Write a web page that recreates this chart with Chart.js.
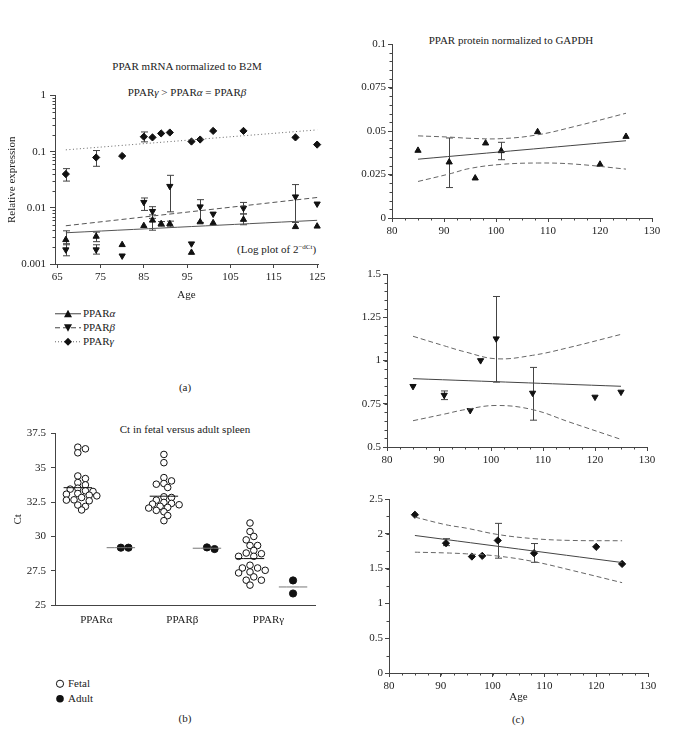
<!DOCTYPE html>
<html>
<head>
<meta charset="utf-8">
<script src="https://cdn.jsdelivr.net/npm/chart.js@4.4.1/dist/chart.umd.min.js"></script>
<style>
  body { margin: 0; background: #fff; }
  #page { position: relative; width: 684px; height: 733px; overflow: hidden; font-family: "Liberation Serif", "DejaVu Serif", serif; color: #222; font-size: 11px; }
  #page canvas { position: absolute; }
  .t { position: absolute; white-space: nowrap; transform: translate(-50%, -50%); }
  .l { position: absolute; white-space: nowrap; transform: translateY(-50%); line-height: 12px; }
  .l svg { vertical-align: middle; margin-right: 2px; }
  sup { font-size: 7px; vertical-align: 4px; line-height: 0; }
</style>
</head>
<body>
<div id="page">
  <!-- panel (a) texts -->
  <div class="t" style="left:187px;top:66px">PPAR mRNA normalized to B2M</div>
  <div class="t" style="left:187px;top:92px">PPAR<i>γ</i> &gt; PPAR<i>α</i> = PPAR<i>β</i></div>
  <div class="l" style="left:237px;top:249px">(Log plot of 2<sup>−dCt</sup>)</div>
  <div class="l" style="left:55px;top:313px"><svg width="26" height="10"><line x1="0" y1="5" x2="26" y2="5" stroke="#444"/><polygon points="13,1 17,8.5 9,8.5" fill="#111"/></svg>PPAR<i>α</i></div>
  <div class="l" style="left:55px;top:327px"><svg width="26" height="10"><line x1="0" y1="5" x2="26" y2="5" stroke="#444" stroke-dasharray="5,3"/><polygon points="9,1.5 17,1.5 13,9" fill="#111"/></svg>PPAR<i>β</i></div>
  <div class="l" style="left:55px;top:341px"><svg width="26" height="10"><line x1="0" y1="5" x2="26" y2="5" stroke="#666" stroke-dasharray="1,2"/><polygon points="13,1 17,5 13,9 9,5" fill="#111"/></svg>PPAR<i>γ</i></div>
  <div class="t" style="left:185px;top:387px">(a)</div>

  <!-- panel (b) texts -->
  <div class="t" style="left:185px;top:429px">Ct in fetal versus adult spleen</div>
  <div class="l" style="left:54px;top:683px"><svg width="12" height="10"><circle cx="6" cy="5" r="3.6" fill="#fff" stroke="#111"/></svg>Fetal</div>
  <div class="l" style="left:54px;top:698px"><svg width="12" height="10"><circle cx="6" cy="5" r="3.8" fill="#111"/></svg>Adult</div>
  <div class="t" style="left:185px;top:718px">(b)</div>

  <!-- panel (c) texts -->
  <div class="t" style="left:511px;top:40px">PPAR protein normalized to GAPDH</div>
  <div class="t" style="left:518px;top:719px">(c)</div>

  <canvas id="chartA" width="330" height="220" style="left:0;top:85px"></canvas>
  <canvas id="chartB" width="330" height="208" style="left:0;top:422px"></canvas>
  <canvas id="chartC1" width="325" height="210" style="left:340px;top:34px"></canvas>
  <canvas id="chartC2" width="320" height="210" style="left:340px;top:264px"></canvas>
  <canvas id="chartC3" width="321" height="220" style="left:340px;top:489px"></canvas>
</div>
<script>
// ---------- (a) mRNA normalized to B2M (2^-dCt) ----------
const mrnaAgeA = [67, 74, 80, 85, 87, 89, 91, 96, 98, 101, 108, 120, 125];
const mrnaAlpha = [0.0027, 0.0031, 0.0022, 0.0048, 0.006, 0.0052, 0.0052, 0.0016, 0.0056, 0.0054, 0.0062, 0.0046, 0.0047];
const mrnaAlphaErr = [[0.0022, 0.0039], [0.0025, 0.0037], null, null, [0.004, 0.0075], [0.0047, 0.0057], [0.0046, 0.0058], null, null, null, [0.005, 0.0078], null, null];
const mrnaAgeB = [67, 74, 80, 85, 87, 91, 96, 98, 101, 108, 120, 125];
const mrnaBeta = [0.0018, 0.0018, 0.0014, 0.0126, 0.0087, 0.0243, 0.0023, 0.0105, 0.0078, 0.0099, 0.0158, 0.0118];
const mrnaBetaErr = [[0.0014, 0.0023], [0.0015, 0.0022], null, [0.009, 0.015], [0.0065, 0.0105], [0.0085, 0.038], null, [0.0055, 0.014], null, [0.0078, 0.0125], [0.0055, 0.026], null];
const mrnaAgeG = [67, 74, 80, 85, 87, 89, 91, 96, 98, 101, 108, 120, 125];
const mrnaGamma = [0.040, 0.079, 0.084, 0.185, 0.180, 0.212, 0.220, 0.152, 0.165, 0.235, 0.235, 0.180, 0.134];
const mrnaGammaErr = [[0.030, 0.050], [0.055, 0.105], null, [0.15, 0.225], null, null, null, null, null, null, null, null, null];
const mrnaFitAge = [67, 125];
const mrnaFitAlpha = [0.0036, 0.006];
const mrnaFitBeta = [0.0048, 0.0153];
const mrnaFitGamma = [0.108, 0.245];
const mrnaTicksX = [65, 75, 85, 95, 105, 115, 125];
const mrnaTicksY = [0.001, 0.01, 0.1, 1];

// ---------- (b) Ct in fetal versus adult spleen ----------
const ctGroups = ['PPARα', 'PPARβ', 'PPARγ'];
const ctFetalAlpha = [36.51, 36.39, 36.1, 34.41, 34.22, 33.93, 33.76, 33.52, 33.45, 33.33, 33.28, 33.13, 33.08, 33.01, 32.96, 32.84, 32.67, 32.65, 32.6, 32.29, 32.19, 31.93];
const ctFetalBeta = [35.98, 35.38, 34.29, 34.05, 33.86, 33.81, 33.57, 32.89, 32.84, 32.65, 32.48, 32.41, 32.36, 32.31, 32.2, 32.12, 32.07, 31.9, 31.8, 31.52, 31.15];
const ctFetalGamma = [30.98, 30.36, 30.0, 29.75, 29.34, 29.34, 28.98, 28.79, 28.74, 28.55, 28.55, 27.9, 27.7, 27.7, 27.53, 27.41, 27.34, 27.05, 26.81, 26.81, 26.45];
const ctAdultAlpha = [29.18, 29.18];
const ctAdultBeta = [29.08, 29.2];
const ctAdultGamma = [26.79, 25.84];
const ctTicks = [25, 27.5, 30, 32.5, 35, 37.5];

// ---------- (c) protein normalized to GAPDH ----------
const protAge = [85, 91, 96, 98, 101, 108, 120, 125];
const protAlpha = [0.0388, 0.0321, 0.0229, 0.043, 0.0386, 0.0495, 0.0308, 0.0468];
const protAlphaErr = [null, [0.0175, 0.046], null, null, [0.0335, 0.0435], null, null, null];
const protBeta = [0.851, 0.80, 0.712, 1.0, 1.126, 0.812, 0.789, 0.818];
const protBetaErr = [null, [0.774, 0.824], null, null, [0.875, 1.37], [0.655, 0.96], null, null];
const protGamma = [2.274, 1.865, 1.673, 1.683, 1.904, 1.721, 1.813, 1.567];
const protGammaErr = [null, [1.83, 1.93], null, null, [1.65, 2.15], [1.59, 1.86], null, null];
const protFitAge = [85, 125];
const protFitAlpha = [0.0338, 0.0444];
const protFitBeta = [0.895, 0.851];
const protFitGamma = [1.976, 1.587];
const bandAge = [85, 91, 95, 101, 108, 115, 125];
const bandAlphaHi = [0.0472, 0.0465, 0.0458, 0.0456, 0.0478, 0.0525, 0.0602];
const bandAlphaLo = [0.021, 0.0253, 0.0285, 0.0308, 0.0316, 0.031, 0.0281];
const bandBetaHi = [1.14, 1.085, 1.05, 1.01, 1.03, 1.075, 1.151];
const bandBetaLo = [0.652, 0.69, 0.716, 0.74, 0.716, 0.645, 0.544];
const bandGammaHi = [2.24, 2.13, 2.08, 1.99, 1.93, 1.905, 1.90];
const bandGammaLo = [1.736, 1.725, 1.712, 1.68, 1.60, 1.48, 1.298];
const protTicksX = [80, 90, 100, 110, 120, 130];
const protTicksY1 = [0, 0.025, 0.05, 0.075, 0.1];
const protTicksY2 = [0.5, 0.75, 1, 1.25, 1.5];
const protTicksY3 = [0, 0.5, 1, 1.5, 2, 2.5];

Chart.defaults.font.family = '"Liberation Serif", "DejaVu Serif", serif';
Chart.defaults.font.size = 11;
Chart.defaults.color = '#222';

const pts = (xs, ys) => xs.map((x, i) => ({x: x, y: ys[i]}));
const steps = (a, b, s) => { let out = []; for (let v = a; v <= b + 1e-9; v += s) out.push(+v.toFixed(6)); return out; };
const mean = arr => arr.reduce((a, b) => a + b, 0) / arr.length;

// error bars drawn under the markers
const errorBars = {
	id: 'errorBars',
	beforeDatasetsDraw(chart) {
		const ctx = chart.ctx, xs = chart.scales.x, ys = chart.scales.y;
		ctx.save();
		ctx.strokeStyle = '#444';
		ctx.lineWidth = 1;
		chart.data.datasets.forEach(ds => {
			if (!ds.errors) return;
			ds.errors.forEach((e, j) => {
				if (!e) return;
				const px = Math.round(xs.getPixelForValue(ds.data[j].x)) + 0.5;
				const lo = ys.getPixelForValue(e[0]), hi = ys.getPixelForValue(e[1]);
				ctx.beginPath();
				ctx.moveTo(px, lo); ctx.lineTo(px, hi);
				ctx.moveTo(px - 3.5, lo); ctx.lineTo(px + 3.5, lo);
				ctx.moveTo(px - 3.5, hi); ctx.lineTo(px + 3.5, hi);
				ctx.stroke();
			});
		});
		ctx.restore();
	}
};

// short unlabelled ticks between the labelled ones
const minorTicks = {
	id: 'minorTicks',
	afterDraw(chart, args, opts) {
		const ctx = chart.ctx;
		ctx.save();
		ctx.strokeStyle = '#444';
		ctx.lineWidth = 1;
		['x', 'y'].forEach(id => {
			const vals = opts[id];
			if (!vals) return;
			const s = chart.scales[id];
			ctx.beginPath();
			vals.forEach(v => {
				if (s.isHorizontal()) {
					const p = Math.round(s.getPixelForValue(v)) + 0.5;
					ctx.moveTo(p, s.top); ctx.lineTo(p, s.top + 2.5);
				} else {
					const p = Math.round(s.getPixelForValue(v)) + 0.5;
					ctx.moveTo(s.right - 2.5, p); ctx.lineTo(s.right, p);
				}
			});
			ctx.stroke();
		});
		ctx.restore();
	}
};

function axis(o) {
	return {
		type: o.type || 'linear',
		min: o.min,
		max: o.max,
		title: o.title ? {display: true, text: o.title, padding: o.titlePad, font: {size: 11}} : {display: false},
		border: {display: true, color: '#444', width: 1},
		grid: {display: o.tickLen > 0, drawOnChartArea: false, drawTicks: true, tickLength: o.tickLen, color: '#444'},
		ticks: {padding: o.pad, autoSkip: false, maxRotation: 0, callback: o.label || (v => String(v))},
		afterBuildTicks: s => { s.ticks = o.ticks.map(v => ({value: v})); },
		afterFit: s => { if (s.isHorizontal()) s.height = o.size; else s.width = o.size; }
	};
}

function markers(data, style, errors, extra) {
	return Object.assign({
		data: data, pointStyle: style, pointRadius: 3.6, pointBackgroundColor: '#111',
		pointBorderColor: '#111', pointBorderWidth: 1, showLine: false, errors: errors, clip: false
	}, extra || {});
}
function trend(data, dash, color) {
	return {data: data, showLine: true, borderColor: color || '#555', borderWidth: 1, borderDash: dash || [],
		pointRadius: 0, tension: 0.4, fill: false};
}

function makeChart(id, datasets, x, y, pad, minor) {
	return new Chart(document.getElementById(id), {
		type: 'scatter',
		data: {datasets: datasets},
		options: {
			responsive: false,
			animation: false,
			layout: {autoPadding: false, padding: pad},
			plugins: {legend: {display: false}, tooltip: {enabled: false}, minorTicks: minor || {}},
			scales: {x: x, y: y}
		},
		plugins: [errorBars, minorTicks]
	});
}

// ---- (a) ----
let logMinor = [];
[0.001, 0.01, 0.1].forEach(d => { for (let k = 2; k <= 9; k++) logMinor.push(d * k); });
makeChart('chartA', [
	trend(pts(mrnaFitAge, mrnaFitAlpha)),
	trend(pts(mrnaFitAge, mrnaFitBeta), [5, 3]),
	trend(pts(mrnaFitAge, mrnaFitGamma), [1, 2.5], '#666'),
	markers(pts(mrnaAgeA, mrnaAlpha), 'triangle', mrnaAlphaErr),
	markers(pts(mrnaAgeB, mrnaBeta), 'triangle', mrnaBetaErr, {rotation: 180}),
	markers(pts(mrnaAgeG, mrnaGamma), 'rectRot', mrnaGammaErr)
],
	axis({min: 64.5, max: 125.2, ticks: mrnaTicksX, tickLen: 4, pad: 3, size: 41, title: 'Age', titlePad: 3}),
	axis({type: 'logarithmic', min: 0.001, max: 1, ticks: mrnaTicksY, tickLen: 5, pad: 4, size: 55,
		title: 'Relative expression', titlePad: {top: 6, bottom: 0}}),
	{top: 8, right: 12, left: 0, bottom: 0},
	{y: logMinor}
);

// ---- (b) ----
// beeswarm: each value goes to the nearest free lateral slot
const pxPerX = 260 / 6.04, pxPerCt = 173 / 12.5;
function swarm(center, values) {
	const placed = [], out = [];
	const order = values.map((v, i) => i).sort((a, b) => values[b] - values[a]);
	order.forEach(i => {
		const yp = values[i] * pxPerCt;
		for (let k = 0; k < 60; k++) {
			const slot = k === 0 ? 0 : (k % 2 ? 1 : -1) * Math.ceil(k / 2);
			const xp = slot * 3.8;
			if (placed.every(p => Math.hypot(p.x - xp, p.y - yp) >= 5.2)) {
				placed.push({x: xp, y: yp});
				out.push({x: center + xp / pxPerX, y: values[i]});
				break;
			}
		}
	});
	return out;
}
const meanLine = (center, vals, color) => trend([{x: center - 0.33, y: mean(vals)}, {x: center + 0.33, y: mean(vals)}], [], color);
const fetal = (c, v) => markers(swarm(c, v), 'circle', null, {pointBackgroundColor: '#fff', pointRadius: 3.3});
const adult = (c, v) => markers(swarm(c, v), 'circle', null, {pointRadius: 3.6});
makeChart('chartB', [
	meanLine(0, ctFetalAlpha, '#111'), meanLine(1, ctAdultAlpha, '#777'),
	meanLine(2, ctFetalBeta, '#111'), meanLine(3, ctAdultBeta, '#777'),
	meanLine(4, ctFetalGamma, '#111'), meanLine(5, ctAdultGamma, '#777'),
	fetal(0, ctFetalAlpha), adult(1, ctAdultAlpha),
	fetal(2, ctFetalBeta), adult(3, ctAdultBeta),
	fetal(4, ctFetalGamma), adult(5, ctAdultGamma)
],
	axis({min: -0.53, max: 5.51, ticks: ctGroups.map((g, i) => i * 2 + 0.43), tickLen: 0, pad: 9, size: 25,
		label: (v, i) => ctGroups[i]}),
	axis({min: 25, max: 37.5, ticks: ctTicks, tickLen: 4, pad: 5, size: 55, title: 'Ct', titlePad: {top: 12, bottom: 0}}),
	{top: 10, right: 15, left: 0, bottom: 0}
);

// ---- (c) ----
const xMinor = steps(80, 130, 2.5);
makeChart('chartC1', [
	trend(pts(protFitAge, protFitAlpha), [], '#444'),
	trend(pts(bandAge, bandAlphaHi), [5, 3], '#666'),
	trend(pts(bandAge, bandAlphaLo), [5, 3], '#666'),
	markers(pts(protAge, protAlpha), 'triangle', protAlphaErr)
],
	axis({min: 80, max: 130, ticks: protTicksX, tickLen: 4, pad: 3, size: 26}),
	axis({min: 0, max: 0.1, ticks: protTicksY1, tickLen: 4, pad: 2, size: 52}),
	{top: 10, right: 13, left: 0, bottom: 0},
	{x: xMinor, y: steps(0, 0.1, 0.005)}
);
makeChart('chartC2', [
	trend(pts(protFitAge, protFitBeta), [], '#444'),
	trend(pts(bandAge, bandBetaHi), [5, 3], '#666'),
	trend(pts(bandAge, bandBetaLo), [5, 3], '#666'),
	markers(pts(protAge, protBeta), 'triangle', protBetaErr, {rotation: 180})
],
	axis({min: 80, max: 130, ticks: protTicksX, tickLen: 4, pad: 3, size: 27}),
	axis({min: 0.5, max: 1.5, ticks: protTicksY2, tickLen: 4, pad: 2, size: 47}),
	{top: 10, right: 13, left: 0, bottom: 0},
	{x: xMinor, y: steps(0.5, 1.5, 0.05)}
);
makeChart('chartC3', [
	trend(pts(protFitAge, protFitGamma), [], '#444'),
	trend(pts(bandAge, bandGammaHi), [5, 3], '#666'),
	trend(pts(bandAge, bandGammaLo), [5, 3], '#666'),
	markers(pts(protAge, protGamma), 'rectRot', protGammaErr)
],
	axis({min: 80, max: 130, ticks: protTicksX, tickLen: 4, pad: 3, size: 36, title: 'Age', titlePad: 5}),
	axis({min: 0, max: 2.5, ticks: protTicksY3, tickLen: 4, pad: 2, size: 49}),
	{top: 10, right: 13, left: 0, bottom: 0},
	{x: xMinor, y: steps(0, 2.5, 0.25)}
);
</script>
</body>
</html>
